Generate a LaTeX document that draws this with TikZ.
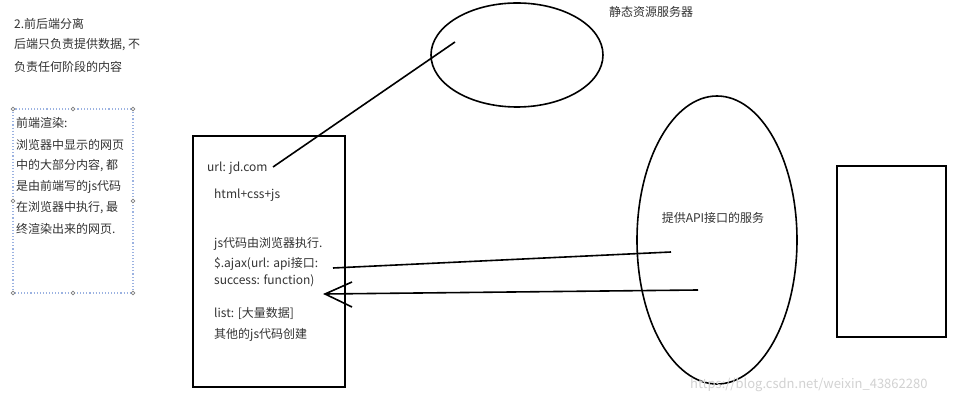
\documentclass[tikz,border=0pt]{standalone}
\usepackage{fontspec}
\setmainfont{Noto Sans CJK SC}
\begin{document}
\begin{tikzpicture}[x=1pt,y=-1pt,
  txt/.style={anchor=west,inner sep=0pt,font=\fontsize{12}{13}\selectfont,text=black!80},
  ln/.style={line width=1.6pt},
  handle/.style={circle,draw=gray,fill=white,inner sep=1.3pt,line width=0.6pt}]
\useasboundingbox[fill=white] (0,0) rectangle (970,403);
% top-left text
\node[txt] (t1) at (14,24) {2.前后端分离};
\node[txt] (t2) at (14,45) {后端只负责提供数据, 不};
\node[txt] (t3) at (14,67) {负责任何阶段的内容};
% dotted box
\draw[dotted,line width=1.1pt,color=cyan!45!blue!40] (13,109) rectangle (133,293);
\foreach \p in {(13,109),(73,109),(133,109),(13,201),(133,201),(13,293),(73,293),(133,293)}
  \node[handle] at \p {};
\node[txt] (d1) at (16,123) {前端渲染:};
\node[txt] (d2) at (16,145) {浏览器中显示的网页};
\node[txt] (d3) at (16,166) {中的大部分内容, 都};
\node[txt] (d4) at (16,187) {是由前端写的js代码};
\node[txt] (d5) at (16,208) {在浏览器中执行, 最};
\node[txt] (d6) at (16,229) {终渲染出来的网页.};
% browser box
\draw[ln] (193,136) rectangle (345,387);
\node[txt] (url) at (207,168) {url: jd.com};
\coordinate (urlend) at (273,167);
\node[txt] (h) at (214,195) {html+css+js};
\node[txt] (j1) at (214,244) {js代码由浏览器执行.};
\node[txt] (j2) at (214,264) {\$.ajax(url: api接口:};
\node[txt] (j3) at (214,281) {success: function)};
\node[txt] (l1) at (214,313) {list: [大量数据]};
\node[txt] (l2) at (214,335) {其他的js代码创建};
% static server
\draw[ln] (517,55) ellipse [x radius=86,y radius=52];
\coordinate (st) at (455,42);
\node[txt] (stl) at (609,12) {静态资源服务器};
\draw[ln] (urlend) -- (st);
% API server
\draw[ln] (717,240) ellipse [x radius=80,y radius=144];
\node[txt,anchor=center] (api) at (713,218) {提供API接口的服务};
% right box
\draw[ln] (837,166) rectangle (946,337);
% request/response lines
\coordinate (a1) at (333,268); \coordinate (a2) at (671,252);
\draw[ln] (a1) -- (a2);
\coordinate (b1) at (325,294); \coordinate (b2) at (698,290);
\draw[ln] (b2) -- (b1);
\draw[ln] (352,282) -- (b1) -- (352,307);
% watermark
\node[txt,text=gray!35,font=\fontsize{13}{14}\selectfont] (wm) at (690,385) {https://blog.csdn.net/weixin\_43862280};
\end{tikzpicture}
\end{document}
